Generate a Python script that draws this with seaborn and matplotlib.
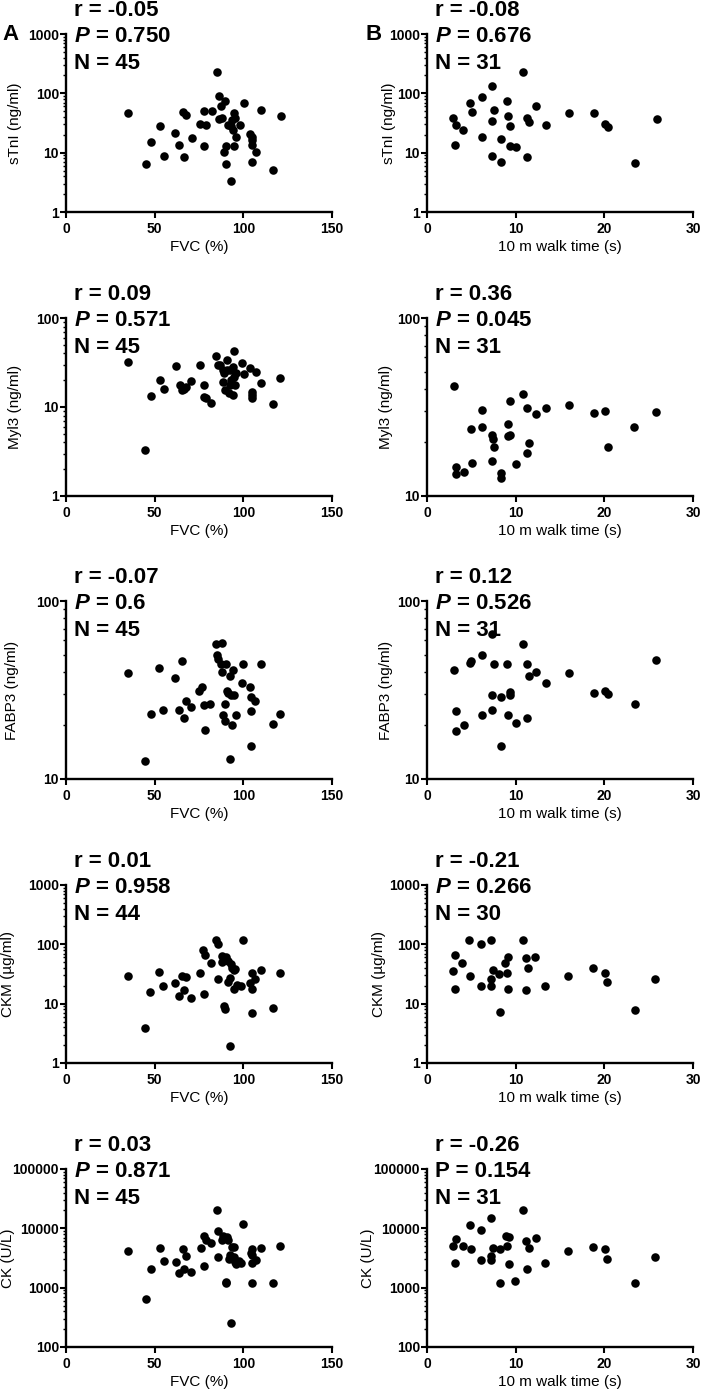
import matplotlib
matplotlib.use("Agg")
import matplotlib.pyplot as plt
import matplotlib.ticker as mticker
import seaborn as sns
import pandas as pd

# ---- column A: FVC (%) ----
stni_fvc_x = [34.9, 85.1, 86.0, 44.9, 47.7, 52.8, 55.0, 61.7, 63.8, 66.0, 67.9, 66.8, 70.9, 75.8, 77.7,
              77.9, 78.9, 82.1, 86.0, 87.4, 89.6, 88.1, 89.2, 90.0, 90.0, 91.5, 93.0, 93.4, 94.0, 94.9,
              95.3, 94.9, 95.8, 93.0, 98.1, 100.2, 103.8, 104.7, 105.1, 105.1, 105.1, 107.2, 110.0, 117.0, 121.1]
stni_fvc_y = [46.6, 229, 89, 6.5, 15.1, 28.5, 8.8, 21.4, 13.3, 47.8, 42.6, 8.3, 17.7, 30.8, 51,
              13.1, 29.3, 49.8, 36.9, 60, 73, 38, 10.3, 12.8, 6.5, 29.3, 27.8, 36, 24.4, 46.6,
              38.4, 12.8, 18.4, 3.3, 29.3, 68.7, 20.9, 18.4, 16.6, 13.6, 7.0, 10.1, 51.7, 5.2, 41.5]

myl3_fvc_x = [34.8, 44.7, 47.9, 52.8, 55.1, 61.9, 64.1, 65.6, 66.7, 67.9, 70.7, 75.8, 77.6, 78.0, 79.1,
              81.8, 84.8, 85.7, 87.0, 88.5, 89.3, 88.5, 89.9, 90.8, 91.7, 93.1, 94.0, 94.6, 94.6, 95.1,
              95.7, 92.7, 99.1, 100.2, 104.0, 104.9, 104.9, 104.9, 107.0, 110.0, 116.7, 120.9, 90.8, 92.7, 94.2]
myl3_fvc_y = [32.1, 3.3, 13.2, 20.3, 15.8, 29.2, 17.6, 15.5, 16.0, 16.6, 19.6, 29.4, 17.6, 13.0, 12.7,
              11.2, 37.2, 30.0, 29.5, 26.0, 24.4, 19.3, 15.5, 34.1, 14.4, 20.3, 13.6, 42.3, 21.8, 17.6,
              24.2, 25.9, 31.0, 23.6, 27.7, 14.7, 13.6, 12.5, 24.8, 18.8, 10.7, 21.4, 25.9, 17.6, 28.0]

fabp3_fvc_x = [34.7, 44.6, 47.8, 52.5, 54.8, 61.5, 63.8, 65.4, 66.6, 67.5, 70.5, 75.0, 76.9, 77.6, 78.4,
               81.4, 84.4, 85.3, 85.9, 87.8, 87.2, 87.8, 88.5, 89.6, 89.6, 90.0, 90.6, 91.5, 92.4, 92.8,
               92.4, 93.4, 94.3, 94.7, 95.6, 99.0, 99.8, 103.5, 104.6, 104.6, 104.6, 106.5, 109.7, 116.6, 120.6]
fabp3_fvc_y = [39.5, 12.6, 23.3, 42.2, 24.4, 37.0, 24.4, 46.3, 22.0, 27.4, 25.3, 31.1, 32.8, 26.2, 18.8,
               26.5, 57.0, 49.5, 47.0, 58.2, 44.4, 39.8, 23.0, 26.4, 21.1, 44.4, 31.1, 30.5, 37.7, 29.8,
               13.0, 20.2, 41.1, 29.8, 22.8, 34.7, 44.4, 32.8, 28.8, 24.2, 15.3, 27.6, 44.4, 20.5, 23.2]

ckm_fvc_x = [34.8, 44.7, 47.6, 52.6, 54.7, 61.7, 63.5, 65.4, 66.7, 67.9, 70.7, 75.8, 77.5, 78.4, 77.6,
             81.8, 84.8, 85.5, 85.9, 88.0, 88.0, 88.9, 89.9, 90.4, 91.2, 91.2, 92.5, 92.7, 93.1, 93.4,
             94.6, 95.3, 95.0, 96.4, 98.7, 99.6, 103.8, 104.7, 104.7, 104.7, 106.8, 110.0, 116.6, 120.9]
ckm_fvc_y = [29.1, 3.9, 16.0, 34.4, 19.7, 22.5, 13.4, 29.6, 16.9, 28.5, 12.5, 32.3, 80.0, 65.8, 14.6,
             48.9, 118, 99.6, 26.2, 63.3, 50.8, 9.1, 8.0, 62.0, 52.8, 23.4, 26.6, 1.96, 46.4, 40.2,
             36.7, 38.0, 18.0, 20.5, 19.9, 118, 22.5, 32.3, 18.0, 7.0, 25.6, 36.7, 8.3, 33.1]

ck_fvc_x = [35.1, 45.0, 48.0, 52.9, 55.1, 61.9, 63.9, 65.8, 66.6, 67.9, 70.7, 75.9, 77.6, 78.8, 77.8,
            81.8, 84.9, 85.9, 85.9, 87.8, 88.5, 90.0, 90.0, 90.6, 91.1, 91.9, 92.3, 92.8, 93.8, 94.5,
            94.9, 95.3, 95.6, 97.5, 98.8, 99.9, 104.1, 105.0, 105.0, 105.0, 106.9, 109.9, 116.8, 120.9, 105.0]
ck_fvc_y = [4074, 647, 2075, 4580, 2800, 2656, 1733, 4500, 2040, 3357, 1849, 4580, 7500, 6410, 2300,
            5630, 20000, 9100, 3270, 6250, 7300, 1270, 1190, 7100, 6410, 3020, 3580, 258, 4820, 4900,
            3270, 2760, 2490, 2810, 2590, 11640, 3820, 4450, 2590, 1205, 2880, 4620, 1215, 5080, 3580]

# ---- column B: 10 m walk time (s) ----
stni_walk_x = [2.98, 3.28, 3.2, 4.08, 4.9, 5.02, 6.19, 6.23, 7.32, 7.32, 7.36, 7.55, 8.3, 8.34, 9.02, 9.13,
               9.32, 9.32, 10.04, 10.87, 11.3, 11.5, 11.3, 12.34, 13.4, 16.0, 18.8, 20.1, 20.4, 23.5, 25.9]
stni_walk_y = [38.4, 29.3, 13.6, 23.8, 68.7, 47.9, 88, 18.1, 131, 33.7, 8.7, 51.7, 17, 7, 73, 41.5,
               28.1, 12.8, 12.6, 226, 38.4, 33.3, 8.3, 62, 29.6, 46.6, 46, 30.8, 27.4, 6.6, 36.9]

myl3_walk_x = [3.04, 3.26, 3.3, 4.12, 4.95, 5.06, 6.22, 6.22, 7.35, 7.39, 7.54, 7.35, 8.36, 8.4, 9.08, 9.08,
               9.41, 9.34, 10.05, 10.88, 11.3, 11.3, 11.55, 12.34, 13.4, 16.0, 18.8, 20.1, 20.4, 23.4, 25.8]
myl3_walk_y = [41.6, 14.6, 13.3, 13.6, 23.7, 15.4, 30.5, 24.5, 21.9, 21.0, 18.9, 15.8, 13.4, 12.6, 25.5, 21.7,
               22.1, 34.0, 15.1, 37.3, 31.4, 17.5, 19.9, 28.8, 31.4, 32.5, 29.3, 30.0, 18.8, 24.3, 29.6]

fabp3_walk_x = [3.0, 3.23, 3.31, 4.17, 4.89, 5.0, 6.17, 6.2, 7.33, 7.52, 7.29, 7.33, 8.31, 8.31, 8.99, 9.1,
                9.32, 9.32, 10.0, 10.87, 11.28, 11.28, 11.5, 12.3, 13.4, 16.0, 18.8, 20.1, 20.4, 23.5, 25.8]
fabp3_walk_y = [41.1, 24.0, 18.7, 20.2, 44.8, 46.3, 49.7, 22.8, 65.5, 44.0, 29.7, 24.4, 28.8, 15.3, 44.4, 22.9,
                30.9, 29.8, 20.7, 57.0, 44.0, 22.0, 37.7, 39.8, 34.7, 39.5, 30.3, 31.1, 30.2, 26.5, 46.9]

ckm_walk_x = [2.9, 3.2, 3.12, 3.99, 4.78, 4.89, 6.06, 6.1, 7.23, 7.23, 7.19, 7.42, 8.17, 8.24, 8.85,
              9.03, 9.15, 9.18, 10.84, 11.22, 11.44, 11.22, 12.23, 13.29, 15.92, 18.74, 20.06, 20.3, 23.45, 25.7]
ckm_walk_y = [35.8, 65.8, 17.8, 48.2, 118, 29.5, 99.6, 19.7, 118, 26.2, 19.9, 36.7, 31.4, 7.1, 48.9,
              32.3, 61.6, 18.0, 118, 59.3, 39.7, 16.9, 61.6, 19.9, 29.1, 39.2, 32.7, 23.3, 7.9, 25.9]

ck_walk_x = [2.9, 3.23, 3.16, 4.02, 4.81, 4.96, 6.13, 6.13, 7.26, 7.26, 7.26, 7.44, 8.23, 8.27, 8.91, 9.02,
             9.25, 9.25, 9.93, 10.83, 11.2, 11.47, 11.28, 12.26, 13.35, 15.94, 18.76, 20.08, 20.34, 23.42, 25.68]
ck_walk_y = [5080, 6580, 2620, 4950, 11480, 4520, 9220, 2945, 14700, 3357, 2945, 4650, 4450, 1222, 7300, 5100,
             7200, 2460, 1320, 20000, 6090, 4720, 2025, 6840, 2620, 4074, 4820, 4520, 2985, 1190, 3230]

y_labels = ["sTnI (ng/ml)", "Myl3 (ng/ml)", "FABP3 (ng/ml)", "CKM (\u00b5g/ml)", "CK (U/L)"]
ylims_a = [(1, 1000), (1, 100), (10, 100), (1, 1000), (100, 100000)]
ylims_b = [(1, 1000), (10, 100), (10, 100), (1, 1000), (100, 100000)]
stats_a = [("-0.05", "0.750", "45"), ("0.09", "0.571", "45"), ("-0.07", "0.6", "45"),
           ("0.01", "0.958", "44"), ("0.03", "0.871", "45")]
stats_b = [("-0.08", "0.676", "31"), ("0.36", "0.045", "31"), ("0.12", "0.526", "31"),
           ("-0.21", "0.266", "30"), ("-0.26", "0.154", "31")]

data_a = [(stni_fvc_x, stni_fvc_y), (myl3_fvc_x, myl3_fvc_y), (fabp3_fvc_x, fabp3_fvc_y),
          (ckm_fvc_x, ckm_fvc_y), (ck_fvc_x, ck_fvc_y)]
data_b = [(stni_walk_x, stni_walk_y), (myl3_walk_x, myl3_walk_y), (fabp3_walk_x, fabp3_walk_y),
          (ckm_walk_x, ckm_walk_y), (ck_walk_x, ck_walk_y)]

sns.set_style("ticks")
plt.rcParams["font.family"] = ["Liberation Sans", "DejaVu Sans"]
plt.rcParams["mathtext.fontset"] = "custom"
plt.rcParams["mathtext.it"] = "Liberation Sans:italic:bold"
plt.rcParams["mathtext.rm"] = "Liberation Sans:bold"
# pure black text like the original (seaborn defaults to dark grey)
for key in ["text.color", "axes.labelcolor", "xtick.color", "ytick.color", "axes.edgecolor"]:
    plt.rcParams[key] = "black"

W, H = 701, 1389
fig = plt.figure(figsize=(W / 100, H / 100), dpi=100)

ax_w, ax_h = 266, 178
lefts = [66, 427]
bottoms = [212, 496, 779, 1063, 1347]
ylab_off = [[-51, -51, -54, -58, -58], [-38, -41, -41, -48, -59]]


def draw_panel(ax, x, y, xlim, xticks, ylim, ylabel, xlabel, stats, italic_p, ylab_x):
    df = pd.DataFrame({"x": x, "y": y})
    sns.scatterplot(data=df, x="x", y="y", ax=ax, color="black", s=38, linewidth=0, legend=False)
    ax.set_yscale("log")
    ax.set_xlim(*xlim)
    ax.set_ylim(*ylim)
    ax.set_xticks(xticks)
    ax.xaxis.set_minor_locator(mticker.NullLocator())
    ax.yaxis.set_major_locator(mticker.LogLocator(base=10, numticks=10))
    ax.yaxis.set_minor_locator(mticker.LogLocator(base=10, subs=range(2, 10), numticks=20))
    ax.yaxis.set_major_formatter(mticker.FuncFormatter(lambda v, _: f"{v:g}"))
    ax.yaxis.set_minor_formatter(mticker.NullFormatter())
    for side in ["top", "right"]:
        ax.spines[side].set_visible(False)
    for side in ["left", "bottom"]:
        ax.spines[side].set_linewidth(1.7)
        ax.spines[side].set_color("black")
    ax.tick_params(axis="both", which="major", length=4, width=1.5, color="black",
                   labelsize=10, labelcolor="black")
    ax.tick_params(axis="y", which="minor", length=2.2, width=1.0, color="black")
    ax.tick_params(axis="x", which="major", pad=3)
    ax.tick_params(axis="y", which="major", pad=1)
    for lab in ax.get_xticklabels() + ax.get_yticklabels():
        lab.set_fontweight("bold")
    ax.set_ylabel(ylabel, fontsize=11, va="center")
    ax.yaxis.set_label_coords(ylab_x / ax_w, 0.5)
    ax.set_xlabel(xlabel, fontsize=11, va="center")
    ax.xaxis.set_label_coords(0.5, -35 / ax_h)

    r, p, n = stats
    tx = 8 / ax_w
    kw = dict(transform=ax.transAxes, fontsize=16, fontweight="bold", va="baseline", ha="left")
    ax.text(tx, 1 + 18 / ax_h, f"r = {r}", **kw)
    p_txt = f"$P$ = {p}" if italic_p else f"P = {p}"
    ax.text(tx, 1 - 8 / ax_h, p_txt, **kw)
    ax.text(tx, 1 - 35 / ax_h, f"N = {n}", **kw)


for i in range(5):
    bottom = 1 - bottoms[i] / H
    ax_a = fig.add_axes([lefts[0] / W, bottom, ax_w / W, ax_h / H])
    draw_panel(ax_a, *data_a[i], (0, 150), [0, 50, 100, 150], ylims_a[i], y_labels[i],
               "FVC (%)", stats_a[i], True, ylab_off[0][i])
    ax_b = fig.add_axes([lefts[1] / W, bottom, ax_w / W, ax_h / H])
    draw_panel(ax_b, *data_b[i], (0, 30), [0, 10, 20, 30], ylims_b[i], y_labels[i],
               "10 m walk time (s)", stats_b[i], i != 4, ylab_off[1][i])

fig.text(2 / W, 1 - 40 / H, "A", fontsize=16, fontweight="bold", va="baseline", ha="left")
fig.text(366 / W, 1 - 40 / H, "B", fontsize=16, fontweight="bold", va="baseline", ha="left")

fig.savefig("out.png", dpi=100)
